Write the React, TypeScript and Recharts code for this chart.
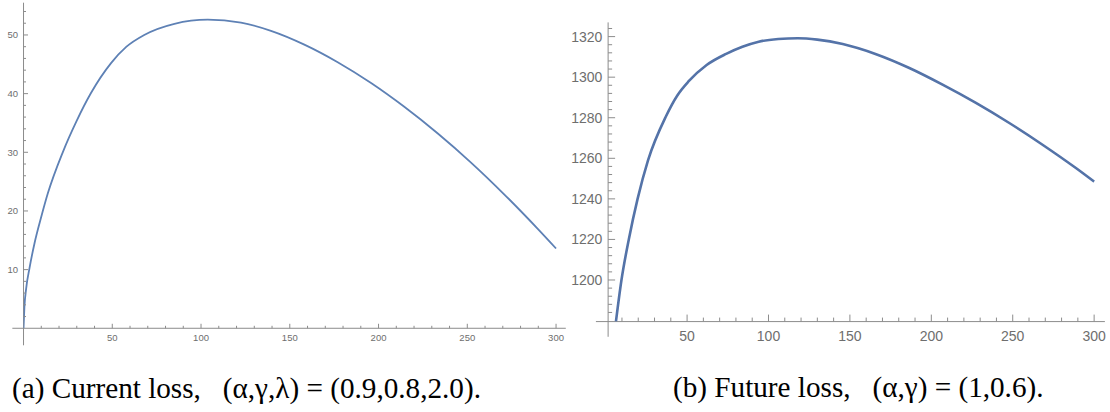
import React from "react";
import { LineChart, Line, XAxis, YAxis, ReferenceLine } from "recharts";

// (a) current loss
const currentX = [0, 0.5, 1.5, 3.4, 6.2, 10, 13.7, 22.1, 30, 38, 49.3, 58, 68, 85, 103.8, 122.5, 139.4, 158.2, 177, 195.8, 214.5, 233.4, 252.1, 270.9, 289.7, 300];
const currentY = [0, 3.6, 6.8, 10.3, 14.5, 19, 23, 30, 35.4, 40.1, 45.2, 48, 50, 51.9, 52.6, 52.1, 50.7, 48.35, 45.35, 41.8, 37.75, 33.2, 28.25, 22.8, 16.95, 13.6];

// (b) future loss
const futureX = [6.3, 9.7, 14.2, 19.6, 26, 36.9, 44, 51, 62, 74, 84, 94, 106, 118, 130, 145.6, 166.1, 186.5, 206.9, 227.4, 247.9, 268.3, 288.8, 300];
const futureY = [1179.5, 1200, 1220, 1240, 1259, 1280.5, 1291, 1298, 1306, 1311.5, 1315, 1317.5, 1318.8, 1319.2, 1318.5, 1316.3, 1311.3, 1304.5, 1296.3, 1287.3, 1277.4, 1266.7, 1255.2, 1248.5];

const xMajor = [50, 100, 150, 200, 250, 300];
const xMinor = [10, 20, 30, 40, 60, 70, 80, 90, 110, 120, 130, 140, 160, 170, 180, 190, 210, 220, 230, 240, 260, 270, 280, 290];
const currentYMajor = [10, 20, 30, 40, 50];
const currentYMinor = [2, 4, 6, 8, 12, 14, 16, 18, 22, 24, 26, 28, 32, 34, 36, 38, 42, 44, 46, 48, 52, 54];
const futureYMajor = [1200, 1220, 1240, 1260, 1280, 1300, 1320];
const futureYMinor = [1184, 1188, 1192, 1196, 1204, 1208, 1212, 1216, 1224, 1228, 1232, 1236, 1244, 1248, 1252, 1256, 1264, 1268, 1272, 1276, 1284, 1288, 1292, 1296, 1304, 1308, 1312, 1316, 1324];

const captionA = "(a) Current loss,   (α,γ,λ) = (0.9,0.8,2.0).";
const captionB = "(b) Future loss,   (α,γ) = (1,0.6).";

const axisColor = "#8c8c8c";
const labelColor = "#6e6e6e";
const tickFont = "'Liberation Sans', Arial, sans-serif";

const zip = (xs: number[], ys: number[]) => xs.map((x, i) => ({ x, y: ys[i] }));

// axes get a near-zero thickness so both tick sets sit on the plot edge
const THIN = 0.01;

// Mathematica style: ticks point into the plot, labels sit outside
function xTick(len: number, fontSize?: number, gap?: number) {
  return (p: any) => (
    <g>
      <line x1={p.x} x2={p.x} y1={p.y} y2={p.y - len} stroke={axisColor} strokeWidth={1} />
      {fontSize ? (
        <text x={p.x} y={p.y + (gap as number) + fontSize * 0.72} textAnchor="middle" fontSize={fontSize} fill={labelColor} fontFamily={tickFont}>
          {p.payload.value}
        </text>
      ) : null}
    </g>
  );
}

function yTick(len: number, fontSize?: number, gap?: number) {
  return (p: any) => (
    <g>
      <line x1={p.x} x2={p.x + len} y1={p.y} y2={p.y} stroke={axisColor} strokeWidth={1} />
      {fontSize ? (
        <text x={p.x - (gap as number)} y={p.y + fontSize * 0.36} textAnchor="end" fontSize={fontSize} fill={labelColor} fontFamily={tickFont}>
          {p.payload.value}
        </text>
      ) : null}
    </g>
  );
}

function Panel(props: any) {
  const { data, xDomain, yDomain, yMajor, yMinor, margin, width, height, fontSize, major, minor, xGap, yGap, xLine, yLine, color, strokeWidth } = props;
  return (
    <LineChart width={width} height={height} data={data} margin={margin}>
      <XAxis xAxisId="m" type="number" dataKey="x" domain={xDomain} allowDataOverflow ticks={xMinor} interval={0} axisLine={false} tickLine={false} tickSize={0} tickMargin={0} tick={xTick(minor)} height={THIN} />
      <XAxis type="number" dataKey="x" domain={xDomain} allowDataOverflow ticks={xMajor} interval={0} axisLine={false} tickLine={false} tickSize={0} tickMargin={0} tick={xTick(major, fontSize, xGap)} height={THIN} />
      <YAxis yAxisId="m" type="number" domain={yDomain} allowDataOverflow ticks={yMinor} interval={0} axisLine={false} tickLine={false} tickSize={0} tickMargin={0} tick={yTick(minor)} width={THIN} />
      <YAxis type="number" domain={yDomain} allowDataOverflow ticks={yMajor} interval={0} axisLine={false} tickLine={false} tickSize={0} tickMargin={0} tick={yTick(major, fontSize, yGap)} width={THIN} />
      <ReferenceLine segment={xLine} stroke={axisColor} ifOverflow="visible" />
      <ReferenceLine segment={yLine} stroke={axisColor} ifOverflow="visible" />
      <Line type="monotone" dataKey="y" stroke={color} strokeWidth={strokeWidth} dot={false} isAnimationActive={false} />
    </LineChart>
  );
}

const captionStyle: React.CSSProperties = {
  position: "absolute",
  fontFamily: "'Liberation Serif', 'Times New Roman', serif",
  fontSize: 29.2,
  lineHeight: 1,
  whiteSpace: "pre",
  color: "#000",
};

export default function App() {
  return (
    <div style={{ position: "absolute", left: 0, top: 0, width: 1110, height: 412, background: "#fff", overflow: "hidden" }}>
      <div style={{ position: "absolute", left: 0, top: 0 }}>
        <Panel
          data={zip(currentX, currentY)}
          width={580}
          height={360}
          margin={{ top: 2.7, right: 13.3, bottom: 31.7, left: 23.5 }}
          xDomain={[0, 306]}
          yDomain={[0, 55.5]}
          yMajor={currentYMajor}
          yMinor={currentYMinor}
          fontSize={9.5}
          major={4.5}
          minor={2.5}
          xGap={6}
          yGap={5.5}
          xLine={[{ x: -6.3, y: 0 }, { x: 305.5, y: 0 }]}
          yLine={[{ x: 0, y: -2.9 }, { x: 0, y: 55.5 }]}
          color="#5e81b5"
          strokeWidth={1.8}
        />
      </div>
      <div style={{ position: "absolute", left: 555, top: 0 }}>
        <Panel
          data={zip(futureX, futureY)}
          width={555}
          height={360}
          margin={{ top: 22.4, right: 6.1, bottom: 38.4, left: 53.1 }}
          xDomain={[1.5, 306]}
          yDomain={[1179.5, 1327]}
          yMajor={futureYMajor}
          yMinor={futureYMinor}
          fontSize={14}
          major={7}
          minor={4}
          xGap={9.3}
          yGap={5.7}
          xLine={[{ x: -6, y: 1179.5 }, { x: 306.6, y: 1179.5 }]}
          yLine={[{ x: 1.5, y: 1172 }, { x: 1.5, y: 1327 }]}
          color="#5473a8"
          strokeWidth={2.6}
        />
      </div>
      <div style={{ ...captionStyle, left: 12, top: 374 }}>{captionA}</div>
      <div style={{ ...captionStyle, left: 673, top: 373 }}>{captionB}</div>
    </div>
  );
}
